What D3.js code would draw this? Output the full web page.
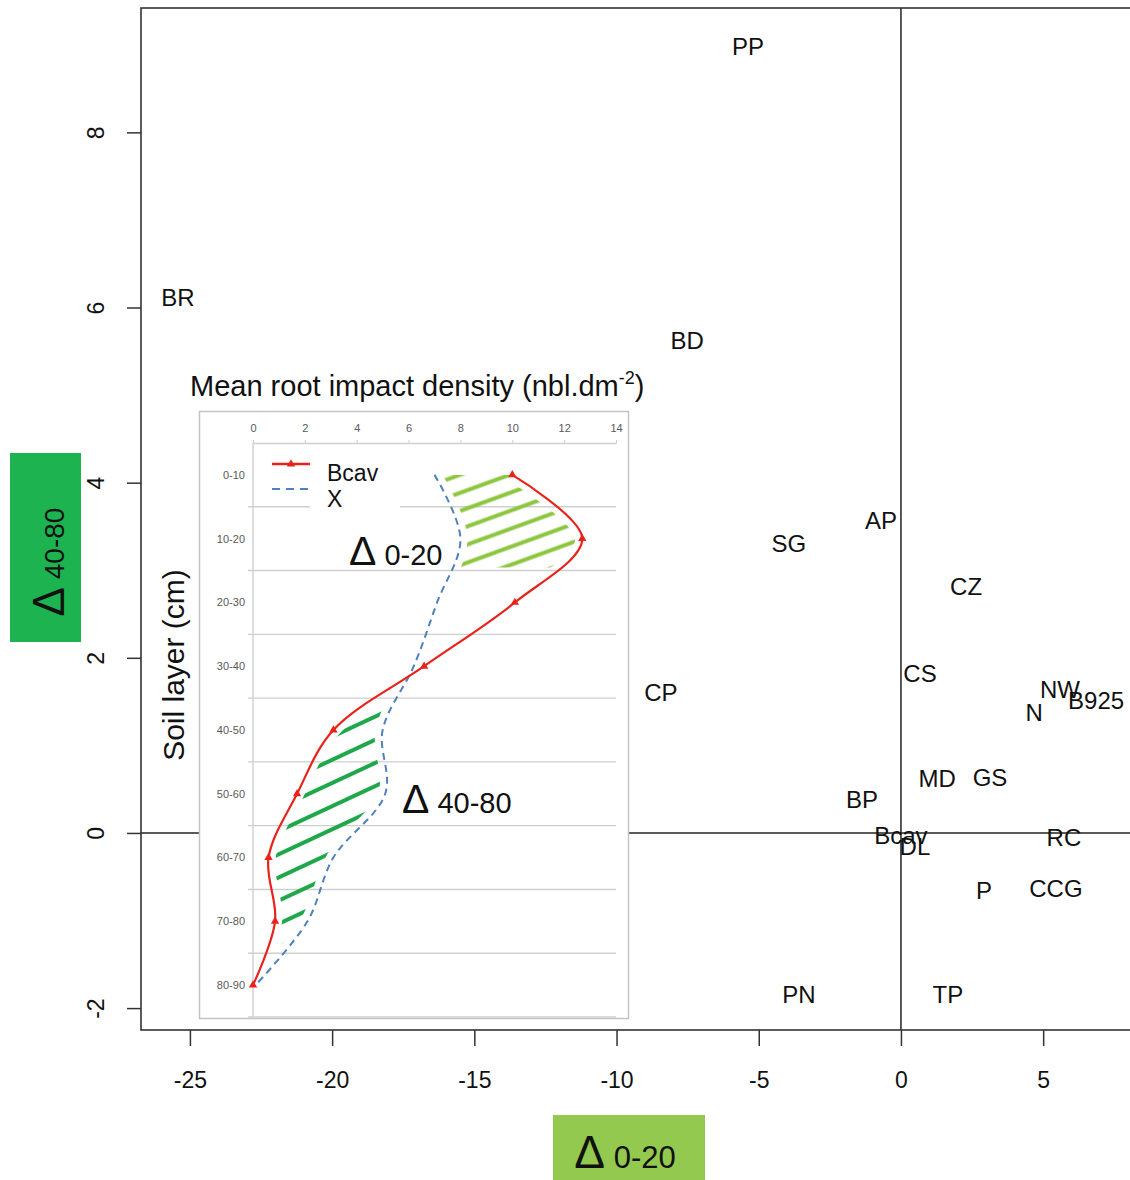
<!DOCTYPE html>
<html><head><meta charset="utf-8">
<script src="https://cdn.jsdelivr.net/npm/d3@7"></script>
<style>
html,body{margin:0;padding:0;background:#fff;}
text{font-family:"Liberation Sans",Arial,sans-serif;}
</style></head>
<body>
<svg id="chart" width="1130" height="1180"></svg>
<script>
// ---------- main scatter data ----------
const codes = ["PP","BR","BD","SG","AP","CZ","CS","CP","NW","B925","N","MD","GS","BP","Bcav","DL","RC","P","CCG","PN","TP"];
const delta020 = [-5.38,-25.42,-7.52,-3.94,-0.70,2.29,0.67,-8.44,5.59,6.86,4.68,1.27,3.13,-1.37,0.0,0.49,5.73,2.92,5.45,-3.59,1.65];
const delta4080 = [8.98,6.12,5.62,3.31,3.57,2.82,1.82,1.61,1.64,1.51,1.38,0.62,0.63,0.38,-0.03,-0.15,-0.05,-0.65,-0.63,-1.84,-1.84];
const xTicks = [-25,-20,-15,-10,-5,0,5];
const yTicks = [-2,0,2,4,6,8];

// ---------- inset data ----------
const layers = ["0-10","10-20","20-30","30-40","40-50","50-60","60-70","70-80","80-90"];
const bcav = [10.0,12.7,10.1,6.6,3.1,1.7,0.6,0.85,0.0];
const xRef = [7.0,8.0,7.1,6.2,5.0,5.1,3.1,2.1,0.1];
const insetTicks = [0,2,4,6,8,10,12,14];
const seriesNames = ["Bcav","X"];

const svg = d3.select("#chart");
const FONT = '"Liberation Sans",Arial,sans-serif';
const fmt = d => String(d);

// ---------- main scales ----------
const x = d3.scaleLinear().domain([-26.72, 8.44]).range([141, 1141]);
const y = d3.scaleLinear().domain([-2.25, 9.42]).range([1030, 8]);

// reference lines at 0
svg.append("line").attr("x1", x(0)).attr("x2", x(0)).attr("y1", 8).attr("y2", 1030)
  .attr("stroke", "#222").attr("stroke-width", 1.5);
svg.append("line").attr("x1", 141).attr("x2", 1141).attr("y1", y(0)).attr("y2", y(0))
  .attr("stroke", "#222").attr("stroke-width", 1.5);

// frame
svg.append("rect").attr("x", 141).attr("y", 8).attr("width", 1000).attr("height", 1022)
  .attr("fill", "none").attr("stroke", "#333").attr("stroke-width", 1.6);

// x axis
const gx = svg.append("g").attr("transform", "translate(0,1030)")
  .call(d3.axisBottom(x).tickValues(xTicks).tickSize(16).tickFormat(fmt));
gx.select(".domain").remove();
gx.selectAll(".tick line").attr("stroke", "#333").attr("stroke-width", 1.5);
gx.selectAll(".tick text").attr("font-size", 23).attr("font-family", FONT).attr("fill", "#111")
  .attr("y", 58).attr("dy", 0);

// y axis
const gy = svg.append("g").attr("transform", "translate(141,0)")
  .call(d3.axisLeft(y).tickValues(yTicks).tickSize(14).tickFormat(fmt));
gy.select(".domain").remove();
gy.selectAll(".tick line").attr("stroke", "#333").attr("stroke-width", 1.5);
gy.selectAll(".tick text").attr("font-size", 23).attr("font-family", FONT).attr("fill", "#111")
  .attr("x", null).attr("dy", null).attr("text-anchor", "middle")
  .attr("transform", "translate(-37,0) rotate(-90)");

// point labels
svg.append("g").selectAll("text").data(codes).join("text")
  .attr("x", (d, i) => x(delta020[i]))
  .attr("y", (d, i) => y(delta4080[i]))
  .attr("dy", "0.36em")
  .attr("text-anchor", "middle")
  .attr("font-size", 24).attr("fill", "#111")
  .text(d => d);

// axis title boxes
svg.append("rect").attr("x", 553).attr("y", 1115).attr("width", 152).attr("height", 65).attr("fill", "#92c94e");
const bt = svg.append("text").attr("x", 625).attr("y", 1168).attr("text-anchor", "middle").attr("fill", "#111");
bt.append("tspan").attr("font-size", 46).text("Δ");
bt.append("tspan").attr("font-size", 31).text(" 0-20");

svg.append("rect").attr("x", 10).attr("y", 453).attr("width", 71).attr("height", 189).attr("fill", "#1db350");
const lt = svg.append("text").attr("transform", "translate(64,562) rotate(-90)").attr("text-anchor", "middle").attr("fill", "#111");
lt.append("tspan").attr("font-size", 44).text("Δ");
lt.append("tspan").attr("font-size", 28).text(" 40-80");

// ---------- inset ----------
const inset = svg.append("g");
inset.append("rect").attr("x", 199.5).attr("y", 411.5).attr("width", 429).attr("height", 607)
  .attr("fill", "#fff").attr("stroke", "#c4c4c4").attr("stroke-width", 1.5);

const xi = d3.scaleLinear().domain([0, 14]).range([253, 616]);
const yi = d3.scaleBand().domain(layers).range([443, 1017]).padding(0);
const bw = yi.bandwidth();
const yc = d => yi(d) + bw / 2;

// gridlines at band boundaries
const bounds = layers.map(l => yi(l) + bw);
inset.append("g").selectAll("line").data(bounds).join("line")
  .attr("x1", 248).attr("x2", 616).attr("y1", d => d).attr("y2", d => d)
  .attr("stroke", "#cfcfcf").attr("stroke-width", 1.4);
inset.append("line").attr("x1", 253).attr("x2", 253).attr("y1", 443).attr("y2", 1017)
  .attr("stroke", "#cfcfcf").attr("stroke-width", 1.4);

// top axis
const gxi = inset.append("g").attr("transform", "translate(0,443)")
  .call(d3.axisTop(xi).tickValues(insetTicks).tickSize(3).tickSizeOuter(0));
gxi.select(".domain").attr("stroke", "#cfcfcf").attr("stroke-width", 1.4);
gxi.selectAll(".tick line").attr("stroke", "#cfcfcf");
gxi.selectAll(".tick text").attr("font-size", 11).attr("font-family", FONT).attr("fill", "#595959").attr("y", -11);

// category labels
inset.append("g").selectAll("text").data(layers).join("text")
  .attr("x", 245).attr("y", d => yc(d)).attr("dy", "0.35em").attr("text-anchor", "end")
  .attr("font-size", 11).attr("fill", "#595959").text(d => d);

// titles
const tt = svg.append("text").attr("x", 190).attr("y", 396).attr("font-size", 29).attr("fill", "#111");
tt.append("tspan").text("Mean root impact density (nbl.dm");
tt.append("tspan").attr("font-size", 18).attr("dy", -12).text("-2");
tt.append("tspan").attr("dy", 12).text(")");
svg.append("text").attr("transform", "translate(184,665) rotate(-90)").attr("text-anchor", "middle")
  .attr("font-size", 30).attr("fill", "#111").text("Soil layer (cm)");

// curves
const curve = d3.curveCatmullRom.alpha(0.5);
const idx = d3.range(layers.length);
const lineB = d3.line().x(i => xi(bcav[i])).y(i => yc(layers[i])).curve(curve);
const lineX = d3.line().x(i => xi(xRef[i])).y(i => yc(layers[i])).curve(curve);
const areaBetween = d3.area().y(i => yc(layers[i])).x0(i => xi(xRef[i])).x1(i => xi(bcav[i])).curve(curve);

const defs = svg.append("defs");
defs.append("clipPath").attr("id", "areaClip").append("path").attr("d", areaBetween(idx));
defs.append("clipPath").attr("id", "topRange").append("rect")
  .attr("x", 250).attr("y", yc(layers[0]) - 6).attr("width", 370).attr("height", yi(layers[2]) - 3 - (yc(layers[0]) - 6));
defs.append("clipPath").attr("id", "lowRange").append("rect")
  .attr("x", 250).attr("y", yi(layers[4]) + 8).attr("width", 370).attr("height", yi(layers[8]) - 10 - (yi(layers[4]) + 8));
const mask = defs.append("mask").attr("id", "gapMask").attr("maskUnits", "userSpaceOnUse")
  .attr("x", 199).attr("y", 411).attr("width", 430).attr("height", 608);
mask.append("rect").attr("x", 199).attr("y", 411).attr("width", 430).attr("height", 608).attr("fill", "#fff");
mask.append("path").attr("d", lineB(idx)).attr("fill", "none").attr("stroke", "#000").attr("stroke-width", 14);
mask.append("path").attr("d", lineX(idx)).attr("fill", "none").attr("stroke", "#000").attr("stroke-width", 14);

const pL = defs.append("pattern").attr("id", "hatchL").attr("patternUnits", "userSpaceOnUse")
  .attr("width", 400).attr("height", 17).attr("patternTransform", "rotate(-20)");
pL.append("line").attr("x1", 0).attr("x2", 400).attr("y1", 8.5).attr("y2", 8.5).attr("stroke", "#8cc63f").attr("stroke-width", 4);
const pD = defs.append("pattern").attr("id", "hatchD").attr("patternUnits", "userSpaceOnUse")
  .attr("width", 400).attr("height", 21).attr("patternTransform", "rotate(-25)");
pD.append("line").attr("x1", 0).attr("x2", 400).attr("y1", 10).attr("y2", 10).attr("stroke", "#1ea84a").attr("stroke-width", 4);

const hg1 = inset.append("g").attr("clip-path", "url(#areaClip)").append("g").attr("clip-path", "url(#topRange)").attr("mask", "url(#gapMask)");
hg1.append("rect").attr("x", 250).attr("y", 440).attr("width", 370).attr("height", 580).attr("fill", "url(#hatchL)");
const hg2 = inset.append("g").attr("clip-path", "url(#areaClip)").append("g").attr("clip-path", "url(#lowRange)").attr("mask", "url(#gapMask)");
hg2.append("rect").attr("x", 250).attr("y", 440).attr("width", 370).attr("height", 580).attr("fill", "url(#hatchD)");

inset.append("path").attr("d", lineX(idx)).attr("fill", "none").attr("stroke", "#4f81bd")
  .attr("stroke-width", 2).attr("stroke-dasharray", "7,5");
inset.append("path").attr("d", lineB(idx)).attr("fill", "none").attr("stroke", "#e8231c").attr("stroke-width", 2.2);
const tri = d3.symbol().type(d3.symbolTriangle).size(30);
inset.append("g").selectAll("path").data(idx).join("path")
  .attr("d", tri).attr("transform", i => `translate(${xi(bcav[i])},${yc(layers[i])})`).attr("fill", "#e8231c");

// legend
inset.append("rect").attr("x", 310).attr("y", 452).attr("width", 90).attr("height", 62).attr("fill", "#fff");
inset.append("line").attr("x1", 272).attr("x2", 310).attr("y1", 464).attr("y2", 464).attr("stroke", "#e8231c").attr("stroke-width", 2.5);
inset.append("path").attr("d", tri).attr("transform", "translate(291,464)").attr("fill", "#e8231c");
inset.append("line").attr("x1", 272).attr("x2", 310).attr("y1", 489).attr("y2", 489).attr("stroke", "#4f81bd")
  .attr("stroke-width", 2.2).attr("stroke-dasharray", "8,6");
inset.append("g").selectAll("text").data(seriesNames).join("text")
  .attr("x", 327).attr("y", (d, i) => 481 + i * 26).attr("font-size", 23).attr("fill", "#111").text(d => d);

// delta annotations
const a1 = inset.append("text").attr("x", 349).attr("y", 565).attr("fill", "#111");
a1.append("tspan").attr("font-size", 41).text("Δ");
a1.append("tspan").attr("font-size", 29).text(" 0-20");
const a2 = inset.append("text").attr("x", 402).attr("y", 813).attr("fill", "#111");
a2.append("tspan").attr("font-size", 41).text("Δ");
a2.append("tspan").attr("font-size", 29).text(" 40-80");
</script>
</body></html>
